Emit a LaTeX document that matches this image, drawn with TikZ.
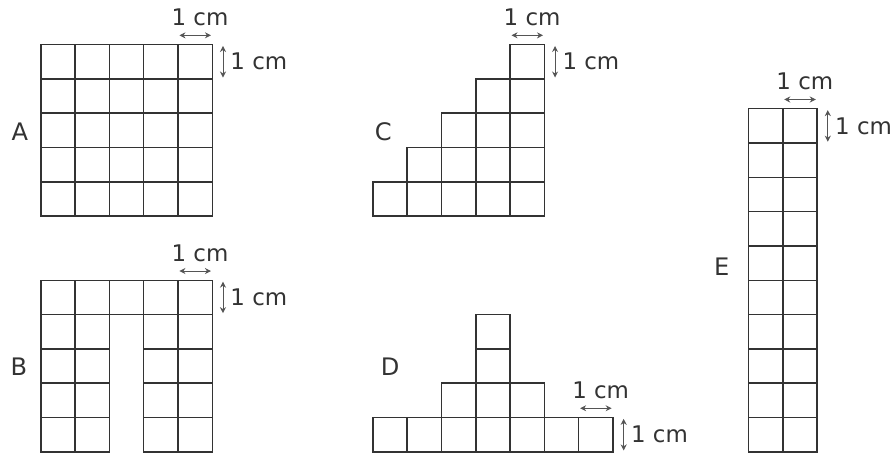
\documentclass[tikz,border=0pt]{standalone}
\usepackage{fontspec}
\setmainfont{DejaVu Sans}
\usetikzlibrary{arrows.meta}
\usetikzlibrary{calc}
\definecolor{sqink}{HTML}{333333}
\definecolor{sqdim}{HTML}{555555}
\definecolor{sqtext}{HTML}{333333}
\tikzset{
  sqcell/.style={draw=sqink, line width=1.2pt},
  sqdimarrow/.style={
    arrows={Stealth[length=5pt, width=5pt]-Stealth[length=5pt, width=5pt]},
    draw=sqdim, line width=0.8pt},
  sqdimtext/.style={font=\fontsize{19}{22}\selectfont, text=sqtext,
    inner sep=0pt},
  sqlabel/.style={font=\fontsize{20}{23}\selectfont, text=sqtext,
    inner sep=0pt},
}
% The two "1 cm" marks on the top-right cell (#1-tr) of a figure.
\newcommand{\sqmarks}[1]{%
  \coordinate (#1-hl) at ($(#1-tr)+(-0.96,0.27)$);
  \coordinate (#1-hr) at ($(#1-tr)+(-0.04,0.27)$);
  \coordinate (#1-vt) at ($(#1-tr)+(0.31,-0.04)$);
  \coordinate (#1-vb) at ($(#1-tr)+(0.31,-0.96)$);
  \draw[sqdimarrow] (#1-hl) -- (#1-hr);
  \draw[sqdimarrow] (#1-vt) -- (#1-vb);
  \node[sqdimtext] (#1-wtext) at ($(#1-tr)+(-0.36,0.8)$) {1 cm};
  \node[sqdimtext, anchor=west] (#1-htext) at ($(#1-tr)+(0.52,-0.5)$)
    {1 cm};}

\begin{document}
\begin{tikzpicture}[x=1cm, y=1cm]
\useasboundingbox (0, 0) rectangle (26.06, 13.27);

% Figure A: a 5 by 5 square.
\begin{scope}[shift={(1.19, 6.97)}]
  \foreach \i in {0,...,4}
    \foreach \j in {0,...,4}
      \draw[sqcell] (\i, \j) rectangle ++(1, 1);
  \coordinate (A-tr) at (5, 5);
\end{scope}
\node[sqlabel] (A-label) at (0.58, 9.43) {A};
\sqmarks{A}

% Figure B: an arch.
\begin{scope}[shift={(1.19, 0.10)}]
  \foreach \i in {0,...,4}
    \draw[sqcell] (\i, 4) rectangle ++(1, 1);
  \foreach \i in {0, 1, 3, 4}
    \foreach \j in {0,...,3}
      \draw[sqcell] (\i, \j) rectangle ++(1, 1);
  \coordinate (B-tr) at (5, 5);
\end{scope}
\node[sqlabel] (B-label) at (0.55, 2.57) {B};
\sqmarks{B}

% Figure C: a staircase.
\begin{scope}[shift={(10.87, 6.97)}]
  \foreach \i in {0,...,4}
    \foreach \j in {0,...,\i}
      \draw[sqcell] (\i, \j) rectangle ++(1, 1);
  \coordinate (C-tr) at (5, 5);
\end{scope}
\node[sqlabel] (C-label) at (11.17, 9.42) {C};
\sqmarks{C}

% Figure D: a tower on a base.
\begin{scope}[shift={(10.87, 0.10)}]
  \foreach \i in {0,...,6}
    \draw[sqcell] (\i, 0) rectangle ++(1, 1);
  \foreach \i in {2, 3, 4}
    \draw[sqcell] (\i, 1) rectangle ++(1, 1);
  \foreach \j in {2, 3}
    \draw[sqcell] (3, \j) rectangle ++(1, 1);
  \coordinate (D-tr) at (7, 1);
\end{scope}
\node[sqlabel] (D-label) at (11.37, 2.57) {D};
\sqmarks{D}

% Figure E: a 2 by 10 strip.
\begin{scope}[shift={(21.82, 0.10)}]
  \foreach \i in {0, 1}
    \foreach \j in {0,...,9}
      \draw[sqcell] (\i, \j) rectangle ++(1, 1);
  \coordinate (E-tr) at (2, 10);
\end{scope}
\node[sqlabel] (E-label) at (21.04, 5.49) {E};
\sqmarks{E}

\end{tikzpicture}
\end{document}
